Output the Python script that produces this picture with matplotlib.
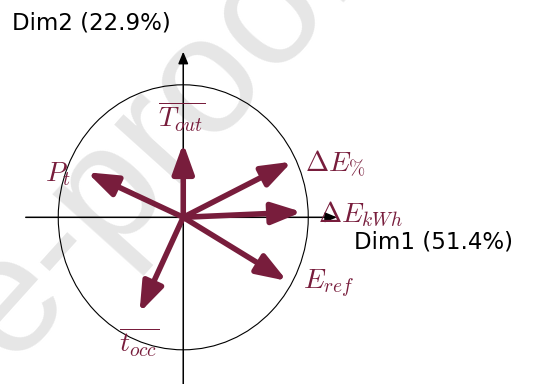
import matplotlib
matplotlib.use("Agg")
import matplotlib.pyplot as plt
from matplotlib.patches import Ellipse

plt.rcParams['mathtext.fontset'] = 'cm'

# variable coordinates on the first two PCA dimensions
variables = [r'$\overline{T_{out}}$', r'$P_t$', r'$\Delta E_{\%}$',
             r'$\Delta E_{kWh}$', r'$E_{ref}$', r'$\overline{t_{occ}}$']
dim1 = [0.0, -0.77, 0.87, 0.95, 0.83, -0.35]
dim2 = [0.56, 0.34, 0.42, 0.04, -0.48, -0.72]
label_x = [-0.01, -1.00, 1.22, 1.42, 1.16, -0.35]
label_y = [0.76, 0.33, 0.41, 0.02, -0.50, -0.94]
dim1_name = 'Dim1 (51.4%)'
dim2_name = 'Dim2 (22.9%)'

maroon = '#781d3c'

fig = plt.figure(figsize=(5.53, 3.84), dpi=100)
ax = fig.add_axes([0, 0, 1, 1])
ax.set_xlim(-1.466, 2.958)
ax.set_ylim(-1.258, 1.640)
ax.axis('off')

# faint watermark behind everything
ax.text(155 / 553, 1 - 140 / 384, 'e-proof', transform=ax.transAxes,
        fontsize=120, color='#e6e6e6', rotation=48, ha='center',
        va='center', zorder=0.5, clip_on=False, family='Liberation Sans')

# axes with arrow heads
ax.annotate('', xy=(1.23, 0), xytext=(-1.26, 0),
            arrowprops=dict(arrowstyle='-|>,head_length=0.6,head_width=0.25',
                            lw=1.1, color='black', shrinkA=0, shrinkB=0,
                            mutation_scale=12))
ax.annotate('', xy=(0, 1.25), xytext=(0, -1.3),
            arrowprops=dict(arrowstyle='-|>,head_length=0.6,head_width=0.25',
                            lw=1.1, color='black', shrinkA=0, shrinkB=0,
                            mutation_scale=12))

# correlation circle
ax.add_patch(Ellipse((0, 0), 2, 2, fill=False, edgecolor='black', lw=0.8))

for x, y in zip(dim1, dim2):
    ax.annotate('', xy=(x, y), xytext=(0, 0),
                arrowprops=dict(arrowstyle='-|>,head_length=1.0,head_width=0.36',
                                lw=4, color=maroon, shrinkA=0, shrinkB=0,
                                mutation_scale=18))

for name, lx, ly in zip(variables, label_x, label_y):
    ax.text(lx, ly, name, fontsize=20, color=maroon, ha='center', va='center')

ax.text(354 / 553, 1 - 242 / 384, dim1_name, transform=ax.transAxes,
        fontsize=16.5, ha='left', va='center')
ax.text(12 / 553, 1 - 23 / 384, dim2_name, transform=ax.transAxes,
        fontsize=16.5, ha='left', va='center')

fig.savefig('out.png', dpi=100)
